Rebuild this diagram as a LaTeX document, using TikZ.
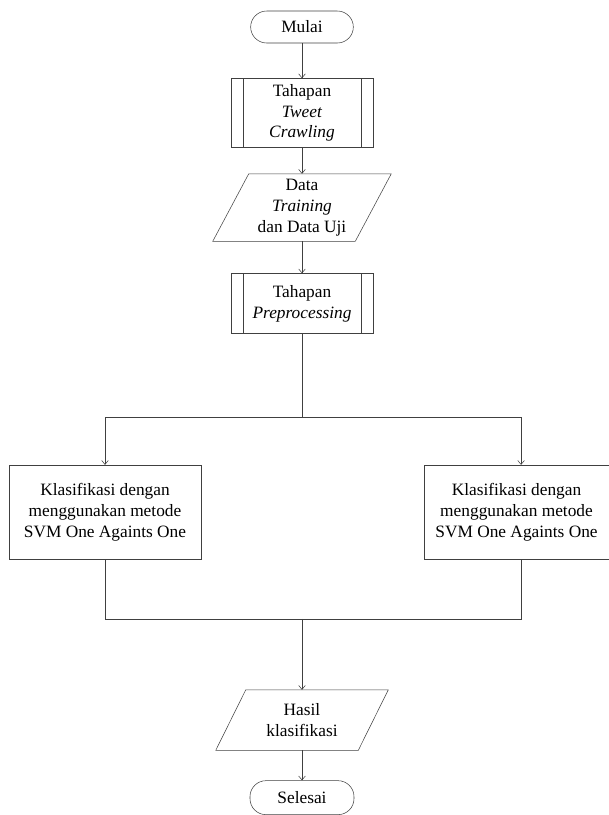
\documentclass[tikz,border=0pt]{standalone}
\usepackage{fontspec}
\setmainfont{Liberation Serif}
\usetikzlibrary{shapes.geometric, arrows.meta, positioning}

\begin{document}
\begin{tikzpicture}[
    every node/.style={font=\fontsize{13}{15.5}\selectfont, align=center},
    term/.style={rectangle, rounded corners=12pt, draw=black!75, minimum width=77pt, minimum height=24pt, inner sep=1pt},
    sub/.style={rectangle, draw=black!75, minimum width=106.5pt, minimum height=51.75pt, inner sep=1pt,
        path picture={
            \draw[black!75] ([xshift=9pt]path picture bounding box.north west) -- ([xshift=9pt]path picture bounding box.south west);
            \draw[black!75] ([xshift=-9pt]path picture bounding box.north east) -- ([xshift=-9pt]path picture bounding box.south east);
        }},
    io/.style={rectangle, minimum width=133.5pt, minimum height=50.25pt, inner sep=1pt},
    proc/.style={rectangle, draw=black!75, minimum width=144pt, minimum height=70.5pt, inner sep=1pt},
    arr/.style={draw=black!75, -{Straight Barb[length=3pt, width=5pt]}},
    line/.style={draw=black!75}
]
\useasboundingbox (-226.5pt,20.25pt) rectangle (230.25pt,-591pt);

\node[term] (mulai) {Mulai};
\node[sub, below=26.25pt of mulai] (crawl) {Tahapan\\\textit{Tweet}\\\textit{Crawling}};
\node[io, below=19.5pt of crawl] (data) {Data\\\textit{Training}\\dan Data Uji};
\node[sub, minimum height=45pt, below=24pt of data] (prep) {Tahapan\\\textit{Preprocessing}};
\node[proc, below=98.25pt of prep, xshift=-147.75pt] (klas1) {Klasifikasi dengan\\menggunakan metode\\SVM One Againts One};
\node[proc, minimum width=138.75pt, below=98.25pt of prep, xshift=160.9pt] (klas2) {Klasifikasi dengan\\menggunakan metode\\SVM One Againts One};
\node[io, minimum width=129pt, minimum height=45pt, below=267pt of prep] (hasil) {Hasil\\klasifikasi};
\node[term, minimum width=78pt, minimum height=25.5pt, below=22.5pt of hasil] (selesai) {Selesai};

% jajaran genjang input/output
\draw[line] (data.south west) -- ([xshift=27pt]data.north west) -- (data.north east) -- ([xshift=-27pt]data.south east) -- cycle;
\draw[line] (hasil.south west) -- ([xshift=22.5pt]hasil.north west) -- (hasil.north east) -- ([xshift=-22.5pt]hasil.south east) -- cycle;

% titik cabang dan titik gabung
\coordinate[below=62.25pt of prep.south] (split);
\coordinate[above=53.25pt of hasil.north] (join);
\coordinate[right=3.4pt of klas2.center] (rcol);

\draw[arr] (mulai) -- (crawl);
\draw[arr] (crawl) -- (data);
\draw[arr] (data) -- (prep);
\draw[line] (prep) -- (split);
\draw[arr] (split) -| (klas1);
\draw[arr] (split) -| (klas2.north -| rcol);
\draw[line] (klas1) |- (join);
\draw[line] (klas2.south -| rcol) |- (join);
\draw[arr] (join) -- (hasil);
\draw[arr] (hasil) -- (selesai);
\end{tikzpicture}
\end{document}
